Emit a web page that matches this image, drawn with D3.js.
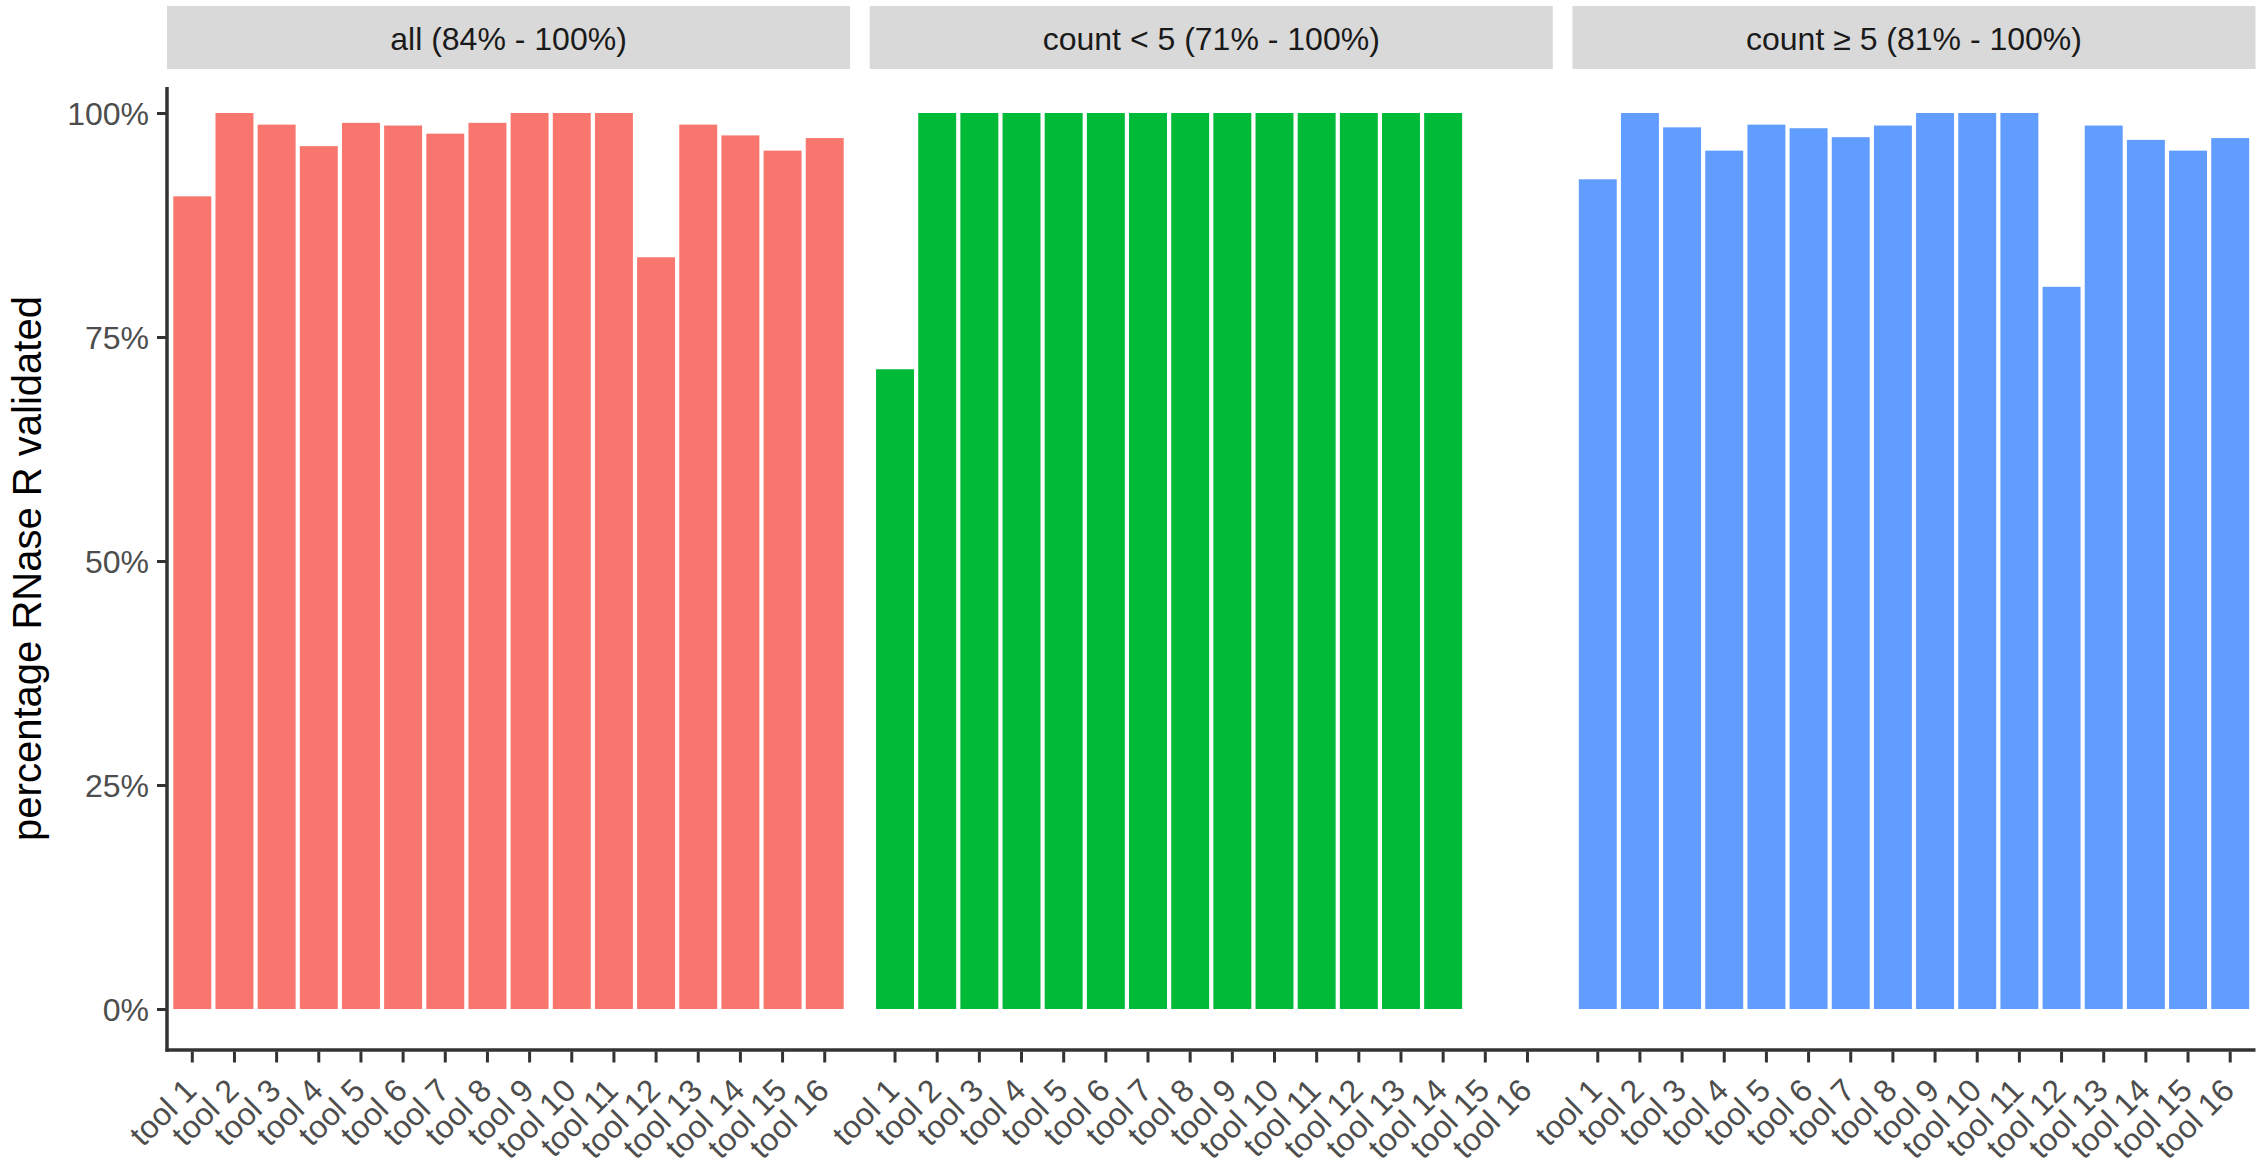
<!DOCTYPE html>
<html>
<head>
<meta charset="utf-8">
<script src="https://cdn.jsdelivr.net/npm/d3@7"></script>
<style>
  html, body { margin: 0; padding: 0; background: #ffffff; }
  svg { display: block; font-family: "Liberation Sans", Arial, Helvetica, sans-serif; }
</style>
</head>
<body>
<svg id="chart" width="2264" height="1165"></svg>
<script>
// Tools on the x axis (same set in every facet)
const tools = ["tool 1", "tool 2", "tool 3", "tool 4", "tool 5", "tool 6", "tool 7", "tool 8",
               "tool 9", "tool 10", "tool 11", "tool 12", "tool 13", "tool 14", "tool 15", "tool 16"];

// Facet titles
const facetLabels = ["all (84% - 100%)", "count < 5 (71% - 100%)", "count \u2265 5 (81% - 100%)"];

// Fraction of circRNAs validated by RNase R, per tool and facet (null = no data)
const valuesAll = [0.907, 1.0, 0.987, 0.963, 0.989, 0.986, 0.977, 0.989,
                   1.0, 1.0, 1.0, 0.839, 0.987, 0.975, 0.958, 0.972];
const valuesLow = [0.714, 1.0, 1.0, 1.0, 1.0, 1.0, 1.0, 1.0,
                   1.0, 1.0, 1.0, 1.0, 1.0, 1.0, null, null];
const valuesHigh = [0.926, 1.0, 0.984, 0.958, 0.987, 0.983, 0.973, 0.986,
                    1.0, 1.0, 1.0, 0.806, 0.986, 0.970, 0.958, 0.972];

// Facet fill colours
const fills = ["#F8766D", "#00BA38", "#619CFF"];

// Y axis ticks
const yTicks = [0, 0.25, 0.5, 0.75, 1];
const yTitle = "percentage RNase R validated";

const series = [valuesAll, valuesLow, valuesHigh];

// Layout
const plotLeft = 167, plotRight = 2255.5, panelGap = 19.7;
const panelTop = 87, panelBottom = 1050;
const stripTop = 6, stripBottom = 69;
const panelW = (plotRight - plotLeft - 2 * panelGap) / 3;

const svg = d3.select("#chart");

const y = d3.scaleLinear().domain([0, 1]).range([1009, 113]);

series.forEach((vals, i) => {
  const x0 = plotLeft + i * (panelW + panelGap);
  const x = d3.scaleBand()
    .domain(tools)
    .range([x0, x0 + panelW])
    .paddingInner(0.1)
    .paddingOuter(0.15);

  // strip
  svg.append("rect")
    .attr("x", x0).attr("y", stripTop)
    .attr("width", panelW).attr("height", stripBottom - stripTop)
    .attr("fill", "#D9D9D9");
  svg.append("text")
    .attr("x", x0 + panelW / 2).attr("y", (stripTop + stripBottom) / 2 + 1)
    .attr("text-anchor", "middle")
    .attr("dominant-baseline", "central")
    .attr("font-size", 32)
    .attr("fill", "#1A1A1A")
    .text(facetLabels[i]);

  // bars
  const data = tools.map((t, k) => ({ tool: t, value: vals[k] })).filter(d => d.value !== null);
  svg.append("g").selectAll("rect")
    .data(data)
    .join("rect")
    .attr("x", d => x(d.tool))
    .attr("width", x.bandwidth())
    .attr("y", d => y(d.value))
    .attr("height", d => y(0) - y(d.value))
    .attr("fill", fills[i]);

  // x axis ticks and labels
  const gx = svg.append("g")
    .attr("transform", `translate(0,${panelBottom + 1.5})`)
    .call(d3.axisBottom(x).tickSize(11).tickPadding(0));
  gx.select(".domain").remove();
  gx.selectAll(".tick line").attr("stroke", "#333333").attr("stroke-width", 3);
  gx.selectAll(".tick text")
    .attr("font-size", 32)
    .attr("fill", "#4D4D4D")
    .attr("text-anchor", "end")
    .attr("dy", null)
    .attr("y", null)
    .attr("transform", "translate(6,41) rotate(-45)");
});

// x axis line across all facets
svg.append("line")
  .attr("x1", plotLeft - 1.5).attr("x2", plotRight)
  .attr("y1", panelBottom).attr("y2", panelBottom)
  .attr("stroke", "#333333").attr("stroke-width", 3.5);

// y axis
const gy = svg.append("g")
  .attr("transform", `translate(${plotLeft},0)`)
  .call(d3.axisLeft(y).tickValues(yTicks).tickFormat(d3.format(".0%")).tickSize(10).tickPadding(8));
gy.select(".domain").remove();
gy.selectAll(".tick line").attr("stroke", "#333333").attr("stroke-width", 3);
gy.selectAll(".tick text")
  .attr("font-size", 32)
  .attr("fill", "#4D4D4D")
  .attr("dy", "0.36em");
svg.append("line")
  .attr("x1", plotLeft).attr("x2", plotLeft)
  .attr("y1", panelTop).attr("y2", panelBottom + 1.75)
  .attr("stroke", "#333333").attr("stroke-width", 3.5);

// y axis title
svg.append("text")
  .attr("transform", `translate(41,${(panelTop + panelBottom) / 2}) rotate(-90)`)
  .attr("text-anchor", "middle")
  .attr("font-size", 40)
  .attr("fill", "#000000")
  .text(yTitle);
</script>
</body>
</html>
